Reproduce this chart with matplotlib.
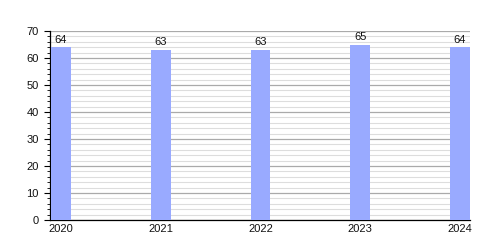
import matplotlib
matplotlib.use("Agg")
import matplotlib.pyplot as plt
from matplotlib.ticker import MultipleLocator

years = ["2020", "2021", "2022", "2023", "2024"]
values = [64, 63, 63, 65, 64]

plt.rcParams['font.family'] = ['Liberation Sans', 'DejaVu Sans']
fig = plt.figure(figsize=(5, 2.5), dpi=100)
ax = fig.add_axes([0.1, 0.12, 0.84, 0.756])
x = list(range(len(years)))
bars = ax.bar(x, values, width=0.2, color='#99aaff', zorder=3)
for xi, v in zip(x, values):
    ax.text(xi, v + 1, str(v), ha='center', va='bottom', fontsize=8, color='#111111')

ax.set_xlim(-0.11, 4.1)
ax.set_ylim(0, 70)
ax.yaxis.set_major_locator(MultipleLocator(10))
ax.yaxis.set_minor_locator(MultipleLocator(2))
ax.grid(axis='y', which='major', color='#aaaaaa', linewidth=0.9, zorder=0)
ax.grid(axis='y', which='minor', color='#dddddd', linewidth=0.8, zorder=0)
ax.set_xticks(x)
ax.set_xticklabels(years)
ax.tick_params(axis='x', length=0, labelsize=8, pad=3, labelcolor='#111111')
ax.tick_params(axis='y', which='major', length=4.5, labelsize=8, width=0.8, labelcolor='#111111')
ax.tick_params(axis='y', which='minor', length=2.5, width=0.6)
for s in ['top', 'right']:
    ax.spines[s].set_visible(False)
ax.spines['left'].set_color('black')
ax.spines['bottom'].set_color('black')
ax.spines['left'].set_linewidth(0.9)
ax.spines['bottom'].set_linewidth(0.9)
fig.savefig('out.png', dpi=100)
